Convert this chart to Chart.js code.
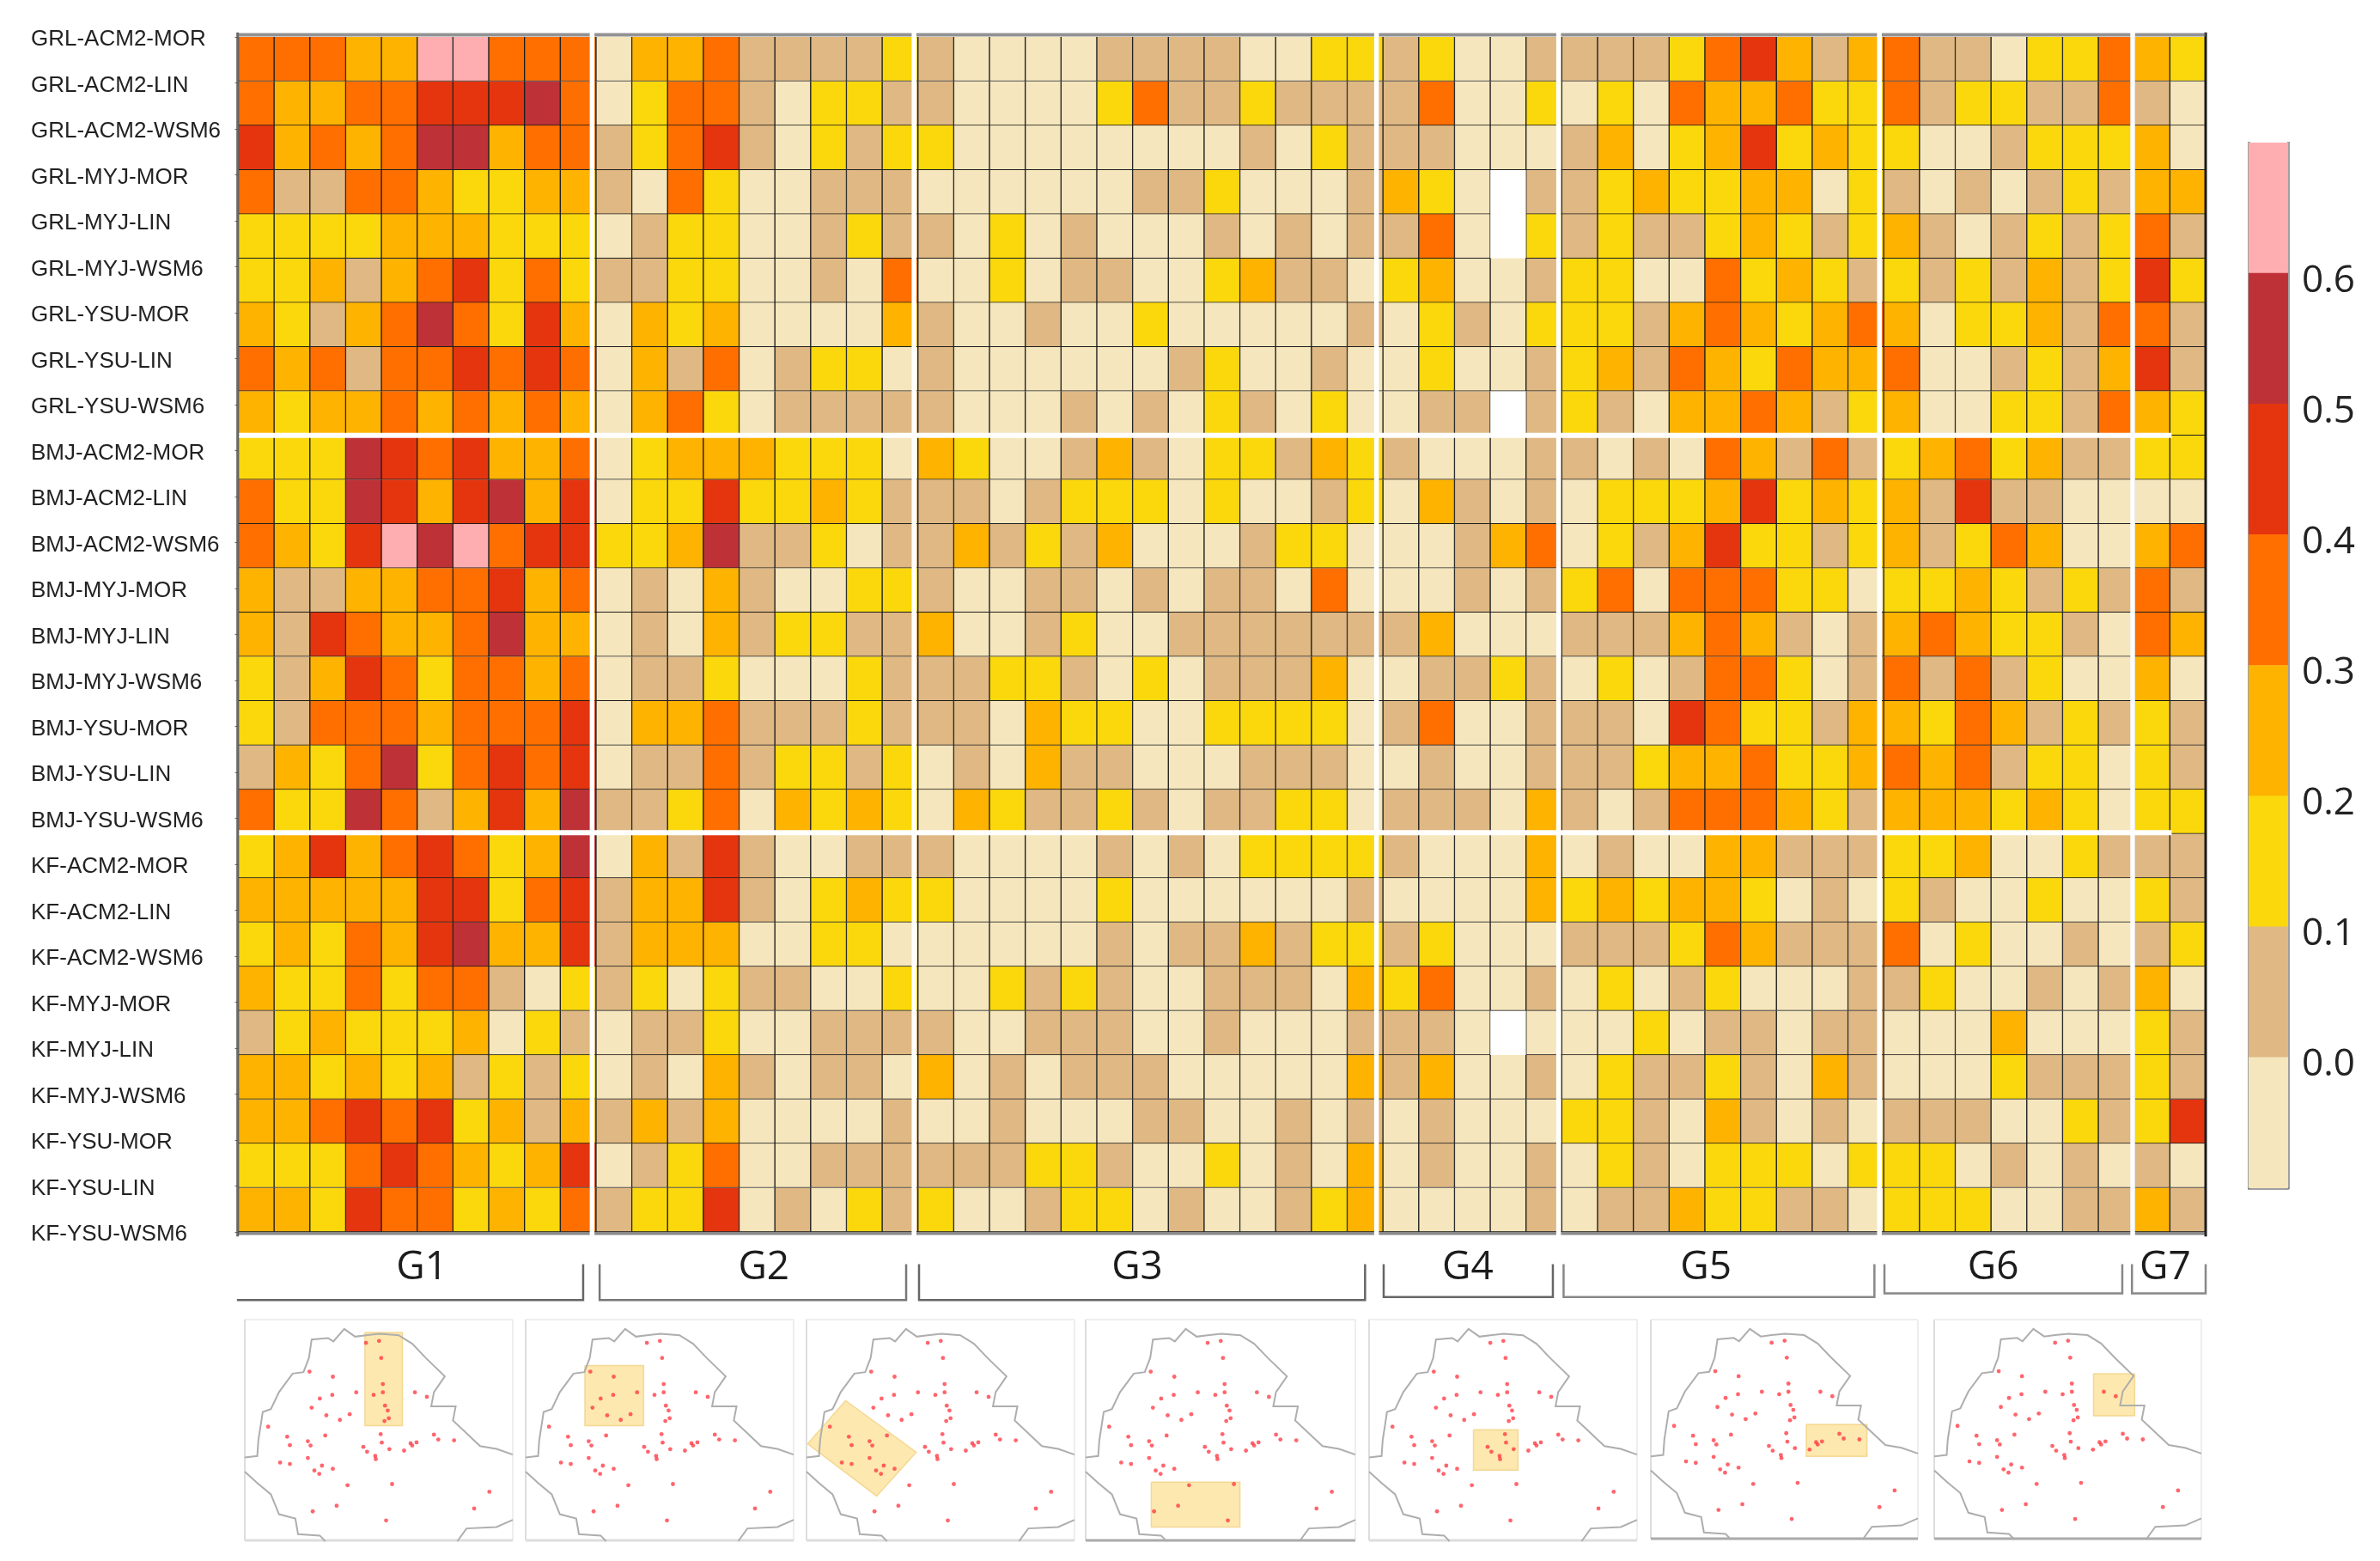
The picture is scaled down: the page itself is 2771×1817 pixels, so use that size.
<!DOCTYPE html>
<html>
<head>
<meta charset="utf-8">
<title>Model skill by region</title>
<script src="https://cdn.jsdelivr.net/npm/chart.js@4/dist/chart.umd.min.js"></script>
<style>
  html, body { margin: 0; background: #fff; }
  #page { position: relative; width: 2771px; height: 1817px; overflow: hidden; }
  #page canvas { position: absolute; }
</style>
</head>
<body>
<div id="page"></div>
<script>
// ---------- data ----------
const ROW_NAMES = [
  "GRL-ACM2-MOR", "GRL-ACM2-LIN", "GRL-ACM2-WSM6", "GRL-MYJ-MOR", "GRL-MYJ-LIN", "GRL-MYJ-WSM6", "GRL-YSU-MOR", "GRL-YSU-LIN", "GRL-YSU-WSM6",
  "BMJ-ACM2-MOR", "BMJ-ACM2-LIN", "BMJ-ACM2-WSM6", "BMJ-MYJ-MOR", "BMJ-MYJ-LIN", "BMJ-MYJ-WSM6", "BMJ-YSU-MOR", "BMJ-YSU-LIN", "BMJ-YSU-WSM6",
  "KF-ACM2-MOR", "KF-ACM2-LIN", "KF-ACM2-WSM6", "KF-MYJ-MOR", "KF-MYJ-LIN", "KF-MYJ-WSM6", "KF-YSU-MOR", "KF-YSU-LIN", "KF-YSU-WSM6"
];
const GROUP_NAMES = ["G1", "G2", "G3", "G4", "G5", "G6", "G7"];
const GROUP_LABEL_AT = [5.13, 14.69, 25.13, 34.37, 41.03, 49.06, 53.87];

// colour band of each cell: band n covers (n-1)/10 .. n/10, null = no data
// columns:  G1 (10) | G2 (9) | G3 (13) | G4 (5) | G5 (9) | G6 (7) | G7 (2)
const CELLS = [
  [4,4,4,3,3,7,7,4,4,4, 0,3,3,4,1,1,1,1,2, 1,0,0,0,0,1,1,1,1,0,0,2,2, 1,2,0,0,1, 1,1,1,2,4,5,3,1,3, 4,1,1,0,2,2,4, 3,2],
  [4,3,3,4,4,5,5,5,6,4, 0,2,4,4,1,0,2,2,1, 1,0,0,0,0,2,4,1,1,2,1,1,1, 1,4,0,0,2, 0,2,0,4,3,3,4,2,2, 4,1,2,2,1,1,4, 1,0],
  [5,3,4,3,4,6,6,3,4,4, 1,2,4,5,1,0,2,1,2, 2,0,0,0,0,0,0,0,0,1,0,2,1, 1,1,0,0,0, 1,3,0,2,3,5,2,3,2, 2,0,0,1,2,2,2, 3,0],
  [4,1,1,4,4,3,2,2,3,3, 1,0,4,2,0,0,1,1,1, 0,0,0,0,0,0,1,1,2,0,0,0,1, 3,2,0,null,1, 1,2,3,2,2,3,3,0,2, 1,0,1,0,1,2,1, 3,3],
  [2,2,2,2,3,3,3,2,2,2, 0,1,2,2,0,0,1,2,1, 1,0,2,0,1,0,0,0,1,0,1,0,1, 1,4,0,null,2, 1,2,1,1,2,3,2,1,2, 3,1,0,1,2,1,2, 4,1],
  [2,2,3,1,3,4,5,2,4,2, 1,1,2,2,0,0,1,0,4, 0,0,2,0,1,1,0,0,2,3,1,1,0, 2,3,0,0,1, 2,2,0,0,4,2,3,2,1, 2,1,2,1,3,1,2, 5,2],
  [3,2,1,3,4,6,4,2,5,3, 0,3,2,3,0,0,0,0,3, 1,0,0,1,0,0,2,0,0,0,0,0,1, 0,2,1,0,2, 2,2,1,3,4,3,2,3,4, 3,0,2,2,3,1,4, 4,1],
  [4,3,4,1,4,4,5,4,5,4, 0,3,1,4,0,1,2,2,0, 1,0,0,0,0,0,0,1,2,0,0,1,0, 0,2,0,0,1, 2,3,1,4,3,2,4,3,3, 4,0,0,1,2,1,3, 5,1],
  [3,2,3,3,4,3,4,3,4,3, 0,3,4,2,0,1,1,1,1, 1,0,0,0,1,0,1,0,2,1,0,2,0, 0,1,1,null,1, 2,1,0,3,3,4,3,1,2, 3,0,0,2,2,1,4, 3,2],
  [2,2,2,6,5,4,5,3,3,4, 0,2,3,3,3,2,2,2,0, 3,2,0,0,1,3,1,0,2,2,1,3,2, 1,0,0,0,1, 1,0,1,0,4,3,1,4,1, 2,3,4,2,3,1,1, 2,2],
  [4,2,2,6,5,3,5,6,3,5, 0,2,2,5,2,2,3,2,1, 1,1,0,1,2,2,2,0,2,0,0,1,2, 0,3,1,0,1, 0,2,2,2,3,5,2,3,2, 3,1,5,1,1,0,0, 0,0],
  [4,3,2,5,7,6,7,4,5,5, 2,2,3,6,1,1,2,0,1, 1,3,1,2,1,3,0,0,0,1,2,2,0, 0,0,1,3,4, 0,2,1,3,5,2,2,1,2, 3,1,2,4,3,0,0, 3,4],
  [3,1,1,3,3,4,4,5,3,4, 0,1,0,3,1,0,0,2,2, 1,0,0,1,1,0,1,0,1,1,0,4,0, 0,0,1,0,1, 2,4,0,4,4,4,2,2,0, 2,2,3,2,1,2,1, 4,1],
  [3,1,5,4,3,3,4,6,3,3, 0,1,0,3,1,2,2,1,1, 3,0,0,1,2,0,0,1,1,1,1,1,1, 1,3,0,0,0, 1,1,1,3,4,3,1,0,1, 3,4,3,2,2,1,0, 4,3],
  [2,1,3,5,4,2,4,4,3,4, 0,1,1,2,0,0,0,2,1, 1,1,2,2,1,0,2,0,1,1,1,3,0, 0,1,1,2,1, 0,2,0,1,4,4,2,0,1, 4,1,4,1,2,0,0, 3,0],
  [2,1,4,4,4,3,4,4,4,5, 0,3,3,4,1,1,1,2,1, 1,1,0,3,2,2,0,0,2,2,2,2,0, 1,4,0,0,1, 1,1,0,5,4,2,2,1,3, 3,2,4,3,1,2,1, 2,1],
  [1,3,2,4,6,2,4,5,4,5, 0,1,1,4,1,2,2,1,2, 0,1,0,3,1,1,0,0,0,1,1,1,0, 0,1,0,0,1, 1,1,2,3,3,4,2,2,3, 4,3,4,1,2,2,0, 2,1],
  [4,2,2,6,4,1,3,5,3,6, 1,1,2,4,0,3,2,3,2, 0,3,2,1,1,2,1,0,1,1,2,2,0, 1,1,1,0,3, 1,0,1,4,4,4,3,2,1, 3,3,3,2,3,2,0, 2,2],
  [2,3,5,3,4,5,4,2,3,6, 0,3,1,5,1,0,0,1,1, 1,0,0,0,0,1,0,1,0,2,2,2,2, 1,0,0,0,3, 0,1,0,0,3,3,1,1,1, 2,2,3,0,0,2,1, 1,1],
  [3,3,3,3,3,5,5,2,4,5, 1,3,3,5,1,0,2,3,2, 2,0,0,0,0,2,0,0,0,0,0,0,1, 0,0,0,0,3, 2,3,2,3,3,2,0,1,0, 2,1,0,0,2,0,0, 2,1],
  [2,3,2,4,3,5,6,3,3,5, 1,3,3,3,0,0,2,2,0, 0,0,0,0,0,1,0,1,1,3,1,2,2, 1,2,0,0,0, 1,1,1,2,4,3,1,1,1, 4,0,2,0,0,1,0, 1,2],
  [3,2,2,4,2,4,4,1,0,2, 1,2,0,2,1,1,0,0,2, 0,0,2,1,2,1,0,0,1,1,1,0,3, 2,4,0,0,1, 0,2,0,1,2,0,0,0,1, 1,2,0,0,1,0,1, 3,0],
  [1,2,3,2,2,2,3,0,2,1, 0,1,1,2,0,0,1,1,1, 1,0,0,1,1,1,0,0,1,0,0,0,1, 1,1,0,null,0, 0,0,2,0,1,1,0,1,1, 0,0,0,3,0,0,0, 2,1],
  [3,3,2,3,2,3,1,2,1,2, 0,1,0,3,1,0,1,1,0, 3,0,1,0,1,1,1,0,0,0,0,0,3, 1,3,0,0,1, 0,2,1,1,2,1,0,3,1, 0,0,0,2,1,1,1, 2,1],
  [3,3,4,5,4,5,2,3,1,3, 1,3,1,3,0,0,0,0,1, 0,0,1,0,0,0,1,1,0,0,1,0,1, 0,1,0,0,0, 2,2,1,0,3,1,0,1,0, 1,1,1,0,0,2,1, 2,5],
  [2,2,2,4,5,4,3,2,3,5, 0,1,2,4,0,0,1,1,1, 1,1,1,2,2,1,0,0,2,0,1,0,3, 0,1,0,0,1, 0,2,1,0,2,2,2,0,2, 2,2,0,1,0,1,0, 1,0],
  [3,3,2,5,4,4,2,3,2,4, 1,2,2,5,0,1,0,2,1, 2,0,0,1,2,2,0,1,0,0,1,2,3, 0,0,0,0,1, 0,1,1,3,2,2,1,1,0, 2,2,2,0,0,1,1, 3,1]
];

const BAND_COLORS = ["#F5E6BD", "#DFB883", "#FAD80C", "#FEB300", "#FF6F00", "#E4350F", "#BE3237", "#FEAEB0"];
const BAND_LOW = [-0.1, 0.0, 0.1, 0.2, 0.3, 0.4, 0.5, 0.6];

// brackets under the heatmap, in column units
const BRACKET_START = [-0.04, 10.1, 19.03, 32.02, 37.05, 46.02, 52.94];
const BRACKET_END = [9.64, 18.67, 31.5, 36.75, 45.74, 52.67, 55];
const BRACKET_FOOT = [28.54, 28.54, 28.54, 28.47, 28.47, 28.39, 28.39];
const BRACKET_COLOR = ["#666", "#777", "#666", "#666", "#888", "#888", "#888"];

const COLUMN_SPLITS = [9.89, 18.89, 31.82, 36.91, 45.88, 52.96];
const ROW_SPLITS = [9, 17.98];

// map insets: coastline/border pieces and stations share one map frame
const BORDER_NORTH = [[37,830],[60,825],[62,770],[70,670],[85,660],[100,600],[125,535],[145,530],[155,480],[160,415],[190,410],[200,422],[220,378],[240,405],[260,400],[285,395],[320,400],[345,430],[370,480],[405,545],[385,600],[380,650],[425,650],[420,700],[470,790],[500,800],[530,820]];
const BORDER_WEST = [[37,880],[60,920],[85,960],[100,1030],[130,1045],[135,1100],[175,1105],[185,1125]];
const BORDER_SOUTH = [[428,1125],[445,1080],[500,1075],[530,1050]];
const STATIONS = [[260,427],[284,420],[288,480],[156,528],[199,546],[291,572],[242,601],[291,601],[274,610],[198,610],[175,623],[350,601],[372,617],[295,648],[300,665],[160,655],[187,682],[230,678],[212,698],[302,692],[294,702],[80,722],[115,757],[120,787],[153,773],[158,788],[185,753],[287,748],[289,778],[255,793],[262,810],[277,825],[278,836],[303,801],[330,806],[342,780],[353,777],[345,788],[385,750],[393,767],[422,770],[153,832],[102,848],[120,853],[179,859],[165,876],[174,888],[199,870],[226,928],[308,924],[487,951],[459,1010],[206,1000],[162,1020],[297,1052]];
const REGION_G1 = [[258,390],[327,390],[327,718],[258,718]];
const REGION_G2 = [[146,507],[254,507],[254,718],[146,718]];
const REGION_G3 = [[109,630],[239,812],[166,966],[39,782]];
const REGION_G4 = [[157,917],[319,917],[319,1075],[157,1075]];
const REGION_G5 = [[229,733],[311,733],[311,875],[229,875]];
const REGION_G6 = [[324,717],[436,717],[436,830],[324,830]];
const REGION_G7 = [[331,537],[407,537],[407,686],[331,686]];
const REGIONS = [REGION_G1, REGION_G2, REGION_G3, REGION_G4, REGION_G5, REGION_G6, REGION_G7];

// ---------- layout (pixels on the page) ----------
const PAGE_W = 2771, PAGE_H = 1817;
const GRID = { left: 277.5, right: 2568, top: 43, bottom: 1434, labelLeft: 36, groupLabelH: 76 };
const BAR = { left: 2618, right: 2664, top: 166, bottom: 1383, canvasLeft: 2600, canvasTop: 90, canvasW: 171, canvasH: 1370 };
const MAP_PAD = 3;
const MAP_BOXES = [
  { left: 284, top: 1535, w: 314, h: 260, foot: "#ddd" },
  { left: 611, top: 1535, w: 314, h: 260, foot: "#ddd" },
  { left: 938, top: 1535, w: 314, h: 260, foot: "#ddd" },
  { left: 1263, top: 1535, w: 316, h: 260, foot: "#aaa" },
  { left: 1593, top: 1535, w: 314, h: 260, foot: "#ddd" },
  { left: 1921, top: 1535, w: 313, h: 258, foot: "#aaa" },
  { left: 2251, top: 1535, w: 313, h: 258, foot: "#aaa" }
];

function addCanvas(left, top, w, h) {
  const c = document.createElement("canvas");
  c.width = w;
  c.height = h;
  c.style.cssText = `left:${left}px;top:${top}px;width:${w}px;height:${h}px`;
  document.getElementById("page").appendChild(c);
  return c.getContext("2d");
}

const BASE_OPTIONS = {
  responsive: false,
  animation: false,
  devicePixelRatio: 1,
  events: [],
  plugins: { legend: { display: false }, tooltip: { enabled: false } }
};

function lineSet(points, color, width, extra) {
  return Object.assign({
    type: "line",
    data: points.map((p) => ({ x: p[0], y: p[1] })),
    borderColor: color,
    borderWidth: width,
    pointRadius: 0,
    tension: 0,
    fill: false,
    clip: false,
    order: 0
  }, extra || {});
}

// ---------- heatmap ----------
function renderHeatmap() {
  const cols = CELLS[0].length;
  const rowCount = ROW_NAMES.length;

  const cellSets = CELLS.map((row, r) => ({
    type: "bar",
    data: row
      .map((band, c) => (band === null ? null : { x: c + 0.5, y: [r, r + 1], band }))
      .filter((d) => d),
    backgroundColor: (ctx) => BAND_COLORS[ctx.raw.band],
    borderColor: "#1c1c1c",
    borderWidth: 1,
    barPercentage: 1,
    categoryPercentage: 1,
    grouped: false,
    order: 3
  }));

  const frame = [
    lineSet([[0, -0.05], [cols, -0.05]], "rgba(110,110,110,.75)", 4, { order: 2 }),
    lineSet([[0, rowCount + 0.03], [cols, rowCount + 0.03]], "rgba(60,60,60,.6)", 4, { order: 2 }),
    lineSet([[-0.02, -0.1], [-0.02, rowCount + 0.1]], "rgba(90,90,90,.9)", 3, { order: 2 }),
    lineSet([[cols, -0.1], [cols, rowCount + 0.1]], "#1a1a1a", 3, { order: 2 })
  ];
  const splits = [
    ...COLUMN_SPLITS.map((x) => lineSet([[x, -0.16], [x, rowCount + 0.1]], "#fff", 5.5, { order: 1 })),
    ...ROW_SPLITS.map((y) => lineSet([[0.02, y], [54.05, y]], "#fff", 6, { order: 1 }))
  ];
  const brackets = GROUP_NAMES.map((g, i) => lineSet([
    [BRACKET_START[i], 27.73],
    [BRACKET_START[i], BRACKET_FOOT[i]],
    [BRACKET_END[i], BRACKET_FOOT[i]],
    [BRACKET_END[i], 27.73]
  ], BRACKET_COLOR[i], 2.5));

  new Chart(addCanvas(0, 0, PAGE_W, PAGE_H), {
    type: "bar",
    data: { datasets: [...cellSets, ...frame, ...splits, ...brackets] },
    options: {
      ...BASE_OPTIONS,
      layout: {
        padding: {
          left: GRID.labelLeft,
          right: PAGE_W - GRID.right,
          top: GRID.top,
          bottom: PAGE_H - GRID.bottom - GRID.groupLabelH
        }
      },
      scales: {
        x: {
          type: "linear",
          offset: false,
          min: 0,
          max: cols,
          grid: { display: false, drawTicks: false },
          border: { display: false },
          afterBuildTicks: (scale) => { scale.ticks = GROUP_LABEL_AT.map((value) => ({ value })); },
          afterFit: (scale) => { scale.height = GRID.groupLabelH; },
          ticks: {
            autoSkip: false,
            maxRotation: 0,
            padding: 14,
            color: "#1c1c1c",
            font: { family: "'Liberation Sans Narrow', 'Open Sans'", size: 46 },
            callback: (v, i) => GROUP_NAMES[i]
          }
        },
        y: { type: "linear", display: false, reverse: true, min: 0, max: rowCount },
        // names run from the top edge to the bottom edge, so they drift off the rows
        yNames: {
          axis: "y",
          type: "category",
          labels: ROW_NAMES,
          position: "left",
          offset: false,
          grid: { drawOnChartArea: false, drawTicks: true, tickLength: 4, color: "#666" },
          border: { display: false },
          afterFit: (scale) => { scale.width = GRID.left - GRID.labelLeft; },
          ticks: {
            autoSkip: false,
            crossAlign: "far",
            padding: 0,
            labelOffset: 3,
            color: "#222",
            font: { family: "Liberation Sans", size: 26 }
          }
        }
      }
    }
  });
}

// ---------- colour bar ----------
function renderColorBar() {
  const edge = "rgba(120,120,120,.7)";
  new Chart(addCanvas(BAR.canvasLeft, BAR.canvasTop, BAR.canvasW, BAR.canvasH), {
    type: "bar",
    data: {
      labels: ["scale"],
      datasets: BAND_LOW.map((low, i) => ({
        data: [[low, low + 0.1]],
        backgroundColor: BAND_COLORS[i],
        barPercentage: 1,
        categoryPercentage: 1,
        grouped: false
      }))
    },
    options: {
      ...BASE_OPTIONS,
      layout: {
        padding: { left: BAR.left - BAR.canvasLeft, right: 0, top: BAR.top - BAR.canvasTop, bottom: BAR.canvasTop + BAR.canvasH - BAR.bottom }
      },
      scales: {
        x: {
          grid: { display: false, drawTicks: false },
          border: { color: edge, width: 3 },
          ticks: { display: false },
          afterFit: (scale) => { scale.height = 0; }
        },
        y: {
          position: "right",
          min: -0.1,
          max: 0.7,
          grid: { display: false, drawTicks: false },
          border: { color: edge, width: 3 },
          afterFit: (scale) => { scale.width = BAR.canvasW - (BAR.right - BAR.canvasLeft); },
          ticks: {
            stepSize: 0.1,
            padding: 16,
            labelOffset: 9,
            color: "#222",
            font: { family: "Open Sans", size: 44 },
            callback: (v) => (v < -0.05 || v > 0.65 ? "" : Math.abs(v).toFixed(1))
          }
        },
        yEdge: {
          axis: "y",
          position: "left",
          min: -0.1,
          max: 0.7,
          grid: { display: false, drawTicks: false },
          border: { color: edge, width: 3 },
          ticks: { display: false },
          afterFit: (scale) => { scale.width = 0; }
        }
      }
    }
  });
}

// ---------- map insets ----------
function renderMap(box, region) {
  const outline = "#aeaeae";
  const frameX = [37, 530], frameY = [345, 1122];
  new Chart(addCanvas(box.left - MAP_PAD, box.top - MAP_PAD, box.w + 2 * MAP_PAD, box.h + 2 * MAP_PAD), {
    type: "scatter",
    data: {
      datasets: [
        {
          type: "scatter",
          data: STATIONS.map((p) => ({ x: p[0], y: p[1] })),
          backgroundColor: "rgba(255,50,60,.75)",
          pointRadius: 2.4,
          borderWidth: 0,
          order: 0
        },
        lineSet(BORDER_NORTH, outline, 2, { order: 1 }),
        lineSet(BORDER_WEST, outline, 2, { order: 1 }),
        lineSet(BORDER_SOUTH, outline, 2, { order: 1 }),
        lineSet([[frameX[0], frameY[1]], [frameX[1], frameY[1]]], box.foot, 3, { order: 1 }),
        lineSet([[frameX[0], frameY[0]], [frameX[0], frameY[1]]], "#ddd", 2, { order: 1 }),
        lineSet([[frameX[0], frameY[0]], [frameX[1], frameY[0]]], "#eee", 2, { order: 1 }),
        lineSet([[frameX[1], frameY[0]], [frameX[1], frameY[1]]], "#eee", 2, { order: 1 }),
        lineSet(region.concat([region[0]]), "rgba(240,205,120,.7)", 1.5, {
          fill: "shape",
          backgroundColor: "rgba(252,214,110,.55)",
          order: 2
        })
      ]
    },
    options: {
      ...BASE_OPTIONS,
      layout: { padding: MAP_PAD },
      scales: {
        x: { type: "linear", display: false, min: 37, max: 530 },
        y: { type: "linear", display: false, reverse: true, min: 345, max: 1125 }
      }
    }
  });
}

// ---------- first render ----------
renderHeatmap();
renderColorBar();
MAP_BOXES.forEach((box, i) => renderMap(box, REGIONS[i]));
</script>
</body>
</html>
